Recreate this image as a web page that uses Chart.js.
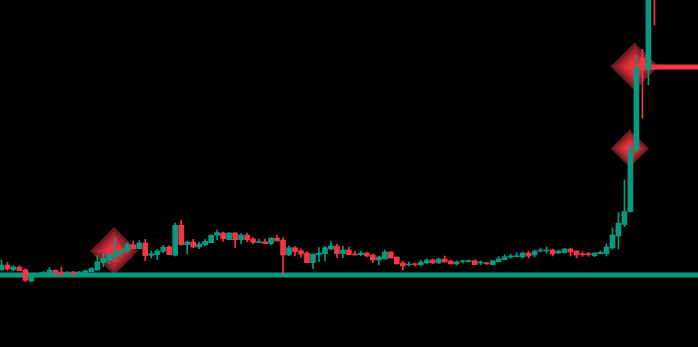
<!DOCTYPE html>
<html lang="en">
<head>
<meta charset="UTF-8">
<title>Candles</title>
<script src="https://cdn.jsdelivr.net/npm/chart.js"></script>
<style>
  html, body { margin: 0; padding: 0; background: #000; }
  #wrap { width: 698px; height: 347px; position: relative; }
</style>
</head>
<body>
<div id="wrap"><canvas id="candleChart"></canvas></div>
<script>
// OHLC, one entry per candle (index = bar number)
const opens = [77,82,77.3,80,77.3,66,71,73.5,73,76.7, 75,73,75,73.3,73.7,75.3,77,84.3,86.7,90.5,
  93.7,95.7,102.3,98.3,104,91.7,92.3,95.7,100.3,91.7, 121.7,102.3,105,100,102.3,104.3,111.7,114,107.3,114,
  107.3,112,108,104.3,105.3,103.3,109,107,92,99.3, 96.3,94,84.3,92.3,93.3,98,101,93.3,97,93,
  92.3,94,92,87,88,95,90,84,82,83, 82,84,87,84,88,86,83,85.3,85.3,86.3,
  84,84.3,82.3,85.3,87.3,90,90.3,90,94,92, 96,96,97,94,94.3,98,96,93.3,93.3,91.3,
  93.3,93.3,99,111,122.5,135.3,197,289,277,400];
const highs = [87,84.5,81.3,81,78.3,72,73,75.5,79.3,77, 80,75.5,75.7,75.5,77,79.7,91.3,93.7,94,109,
  98.3,104.3,106,106.3,107.7,96,97.7,101.7,101.3,124, 127,106,107.7,105,107.3,112.3,117,115,114.5,114.5,
  113.3,114,109.3,108,108,109,112,109.3,101,100.3, 98,95.3,93,99.3,101,106,103,101,100,96,
  96,95,93,91,97,95.5,90,86,85,84, 87,88,88,89,91,87,86,86.3,87.3,87.3,
  86,84.5,86.5,90.3,92.3,93,94.3,95,96,97, 99,100,98,97,98.5,99,96.5,95.3,94.7,94,
  96,103,119,135,167,202,292,297.7,400,420];
const lows = [77,76.5,76.3,76.3,65.3,65.5,70,73,72.5,72, 71,72.5,72.7,73,73.5,74.7,76.7,80.3,83.7,86,
  90,95,98,98,86.3,89,87.3,94.3,92.3,91, 101.7,93.3,99.3,98.3,101,104.3,107,105.7,107,99.3,
  103.3,105.3,103.3,104.3,103.3,102,106,73.7,91.3,91, 89.7,84.3,78.3,85.3,86,97,89.3,89.3,92.3,92,
  91,90,84.3,82,88,89,83,77,81,81, 82,83.5,83.5,83.5,85,83,82,84,85.3,82.3,
  82.3,82.3,82,85,87,88.3,90,89,89,90, 95,94,91,93.5,94,91,89.3,90.7,90.7,90.3,
  93,91,98,98,120.3,135,195.3,228.7,262,322];
const closes = [82,78,80.3,76.3,66.7,71,72,74.5,77,74.3, 72.7,75,73.3,75,76.3,78.3,85.3,88.7,92,94.7,
  96.3,102.3,98.3,104,91.3,93.3,96,99.7,92.3,121.7, 102.3,105,100,103,105.7,111.7,114.3,108.3,114,107.3,
  112,107.3,104.7,105.3,103.3,109,106,92,99.3,95.3, 93,84.3,93,94,99.3,101,93.3,97,92.3,92,
  94,91,87,90,95,89,83,81,83,82.3, 85,87,84,88,85,83,85,86.3,86.3,82.3,
  85,83.3,86.3,88.3,90.3,91,91.3,94,91,96, 97,97,93,96,98,95,92,92.3,92.3,94,
  94.7,100,112,124,135.5,197,278.7,281,380,360];

// horizontal levels and signal markers
const supportLevel = 72;
const resistLevel = 280;
const signalBar = [18.8, 104.9, 105.7];
const signalPrice = [96, 198.5, 280.5];

const up = '#089981';
const down = '#f23645';
const signalRadius = [24, 19, 24];
const diamondLayers = [
  { f: 1.0, c: '#6e1a21' },
  { f: 0.83, c: '#9a2029' },
  { f: 0.66, c: '#bd2630' },
  { f: 0.5, c: '#d82c38' },
  { f: 0.33, c: '#e8323f' }
];

const candleColor = ctx => closes[ctx.dataIndex] >= opens[ctx.dataIndex] ? up : down;

const wicks = opens.map((o, i) => ({ x: i, y: [lows[i], highs[i]] }));
const bodies = opens.map((o, i) => ({ x: i, y: [o, closes[i]] }));
const signals = signalBar.map((b, i) => ({ x: b, y: signalPrice[i] }));

const datasets = [
  { type: 'bar', data: bodies, backgroundColor: candleColor, barThickness: 5, minBarLength: 1, grouped: false, order: 0 },
  { type: 'bar', data: wicks, backgroundColor: candleColor, barThickness: 1, grouped: false, order: 1 },
  { type: 'line', data: [{ x: -2, y: supportLevel }, { x: 120, y: supportLevel }],
    borderColor: up, borderWidth: 5, pointRadius: 0, order: 2 },
  { type: 'line', data: [{ x: signalBar[2], y: resistLevel }, { x: 120, y: resistLevel }],
    borderColor: down, borderWidth: 5, pointRadius: 0, order: 2 }
];

diamondLayers.forEach((l, k) => {
  datasets.push({
    type: 'line',
    data: signals,
    showLine: false,
    pointStyle: 'rectRot',
    pointRadius: ctx => signalRadius[ctx.dataIndex] * l.f,
    pointBackgroundColor: l.c,
    pointBorderWidth: 0,
    order: 10 - k
  });
});

new Chart(document.getElementById('candleChart'), {
  type: 'bar',
  data: { datasets },
  options: {
    responsive: true,
    maintainAspectRatio: false,
    animation: false,
    layout: { padding: 0, autoPadding: false },
    plugins: { legend: { display: false }, tooltip: { enabled: false } },
    scales: {
      x: { type: 'linear', display: false, offset: false, min: -0.25, max: 116.28 },
      y: { display: false, min: 0, max: 347 }
    }
  }
});
</script>
</body>
</html>
